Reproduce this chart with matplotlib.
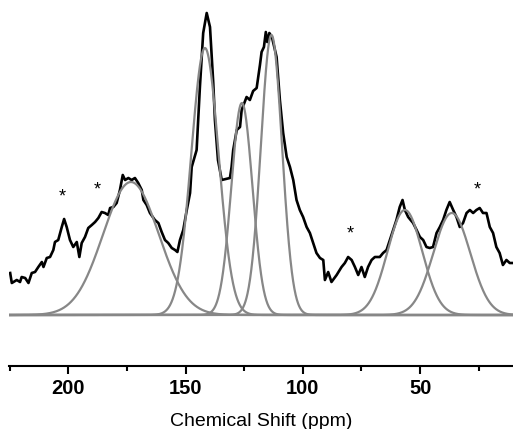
import numpy as np
import matplotlib
matplotlib.use("Agg")
import matplotlib.pyplot as plt

plt.rcParams["font.family"] = ["Liberation Sans", "DejaVu Sans"]

# measured spectrum (ppm, intensity)
ppm = [224.8, 224.1, 222.0, 220.6, 219.9, 218.4, 217.0, 215.6, 214.2, 212.8,
       211.3, 210.6, 209.2, 207.8, 206.4, 205.7, 204.3, 202.8, 201.8, 200.7,
       199.3, 197.9, 196.4, 195.3, 194.3, 192.9, 191.5, 190.0, 188.6, 187.2,
       185.8, 184.4, 183.0, 182.2, 180.8, 179.4, 178.0, 176.8, 175.8, 174.4,
       173.0, 171.6, 170.2, 168.7, 168.0, 166.6, 165.2, 163.1, 161.6, 160.2,
       158.8, 157.4, 155.9, 154.5, 153.5, 152.4, 151.0, 149.5, 148.1, 147.4,
       145.3, 143.9, 142.5, 141.0, 139.6, 138.2, 137.5, 136.2, 134.6, 132.8,
       131.1, 130.4, 129.7, 128.2, 126.8, 126.1, 124.0, 122.6, 121.2, 119.7,
       118.3, 117.6, 116.6, 115.8, 115.2, 114.3, 113.2, 111.2, 109.8, 108.4,
       106.9, 105.5, 104.1, 102.7, 101.3, 99.9, 98.4, 97.0, 95.6, 94.2,
       92.7, 91.3, 90.6, 89.2, 87.8, 85.6, 83.5, 82.1, 80.7, 79.2,
       77.8, 76.4, 75.0, 73.6, 72.2, 70.7, 69.3, 67.2, 65.8, 64.3,
       62.9, 61.5, 60.1, 58.7, 57.5, 56.5, 55.1, 53.0, 51.5, 50.1,
       48.7, 47.3, 45.9, 44.5, 43.0, 41.6, 40.2, 38.8, 37.4, 35.9,
       34.5, 33.1, 31.7, 30.2, 28.8, 27.4, 26.0, 24.6, 23.2, 21.7,
       20.3, 18.9, 17.5, 16.1, 14.7, 13.2, 11.8, 10.5]
intensity = [42, 32, 35, 33, 38, 37, 32, 42, 43, 48,
             53, 48, 57, 58, 65, 73, 75, 88, 96, 88,
             75, 68, 73, 58, 72, 78, 87, 90, 93, 97,
             103, 102, 100, 107, 108, 112, 125, 140, 135, 137,
             135, 137, 132, 125, 115, 110, 102, 95, 92, 83,
             75, 72, 67, 65, 63, 75, 85, 105, 122, 148,
             165, 228, 282, 302, 288, 232, 195, 155, 135, 136,
             137, 148, 165, 185, 188, 205, 218, 215, 224, 227,
             250, 263, 268, 283, 273, 282, 278, 258, 215, 182,
             158, 148, 135, 115, 105, 98, 88, 82, 72, 62,
             57, 55, 35, 43, 33, 40, 48, 52, 58, 55,
             48, 40, 48, 38, 48, 55, 58, 58, 62, 65,
             75, 85, 95, 108, 115, 105, 98, 92, 85, 78,
             75, 68, 67, 68, 82, 88, 95, 105, 113, 105,
             98, 88, 92, 102, 105, 102, 105, 107, 102, 102,
             88, 82, 68, 62, 50, 55, 52, 52]

# fitted gaussian components
centers = [173.3, 141.75, 126.0, 113.4, 56.5, 36.5]
amplitudes = [133, 267, 212, 280, 105, 102]
sigmas = [11.9, 5.8, 4.5, 4.5, 7.4, 7.9]

# spinning sidebands
star_ppm = [202.4, 187.5, 79.7, 25.6]
star_int = [118, 125, 81, 125]

fig = plt.figure(figsize=(5.13, 4.29), dpi=100)
ax = fig.add_axes([9 / 513, 1 - 366 / 429, 1 - 9 / 513, 366 / 429])

ax.plot(ppm, intensity, color="black", lw=1.9, zorder=2)

grid = np.linspace(225.3, 10.4, 2000)
for c, a, s in zip(centers, amplitudes, sigmas):
    ax.plot(grid, a * np.exp(-(grid - c) ** 2 / (2 * s ** 2)), color="#878787", lw=1.6, zorder=3)

for x, y in zip(star_ppm, star_int):
    ax.text(x, y, "*", ha="center", va="center", fontsize=13)

ax.set_xlim(225.3, 10.4)
ax.set_ylim(-51, 315)
for side in ["left", "right", "top"]:
    ax.spines[side].set_visible(False)
ax.spines["bottom"].set_linewidth(1.5)
ax.set_yticks([])
ax.set_xticks([200, 150, 100, 50])
ax.set_xticks([225, 175, 125, 75, 25], minor=True)
ax.tick_params(axis="x", which="major", direction="out", length=6, width=1.5, pad=3, labelsize=14.5)
ax.tick_params(axis="x", which="minor", direction="out", length=3.5, width=1.5)
for lab in ax.get_xticklabels():
    lab.set_fontweight("bold")
ax.set_xlabel("Chemical Shift (ppm)", fontsize=14, labelpad=11)

fig.savefig("out.png", dpi=100)
